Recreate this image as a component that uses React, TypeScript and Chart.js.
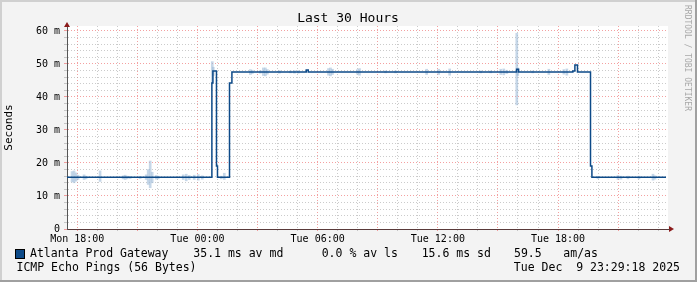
import React, { useEffect, useRef } from "react";
import { Chart, registerables } from "chart.js";
Chart.register(...registerables);

const W = 697;
const H = 282;
const MONO = "'DejaVu Sans Mono', monospace";

// time axis in hours since Mon 00:00
const START_H = 17.4883; // Mon 17:29:18
const END_H = 47.4883; // Tue 23:29:18
const xTickHours = [18, 24, 30, 36, 42];
const xTickLabels = ["Mon 18:00", "Tue 00:00", "Tue 06:00", "Tue 12:00", "Tue 18:00"];
const yTickValues = [0, 10, 20, 30, 40, 50, 60];
const yTickLabels = ["0", "10 m", "20 m", "30 m", "40 m", "50 m", "60 m"];

// median RTT (ms); each value holds from its hour until the next hour
const medianHours = [17.49, 24.72, 24.77, 24.95, 25.0, 25.6, 25.72, 29.43, 29.53, 39.93, 40.03, 42.74, 42.84, 42.97, 43.62, 43.69, 47.39];
const medianValues = [15.7, 44.2, 47.9, 19.1, 15.7, 44.2, 47.6, 48.2, 47.6, 48.4, 47.6, 47.9, 49.7, 47.6, 19.1, 15.7, 15.7];

// smoke (ping spread), ms
const smokeHours = [17.74, 17.84, 17.94, 18.04, 18.34, 18.44, 19.14, 20.29, 20.39, 20.49, 20.64, 21.14, 21.44, 21.54, 21.64, 21.74, 21.94, 22.04, 23.29, 23.44, 23.59, 23.84, 24.04, 24.24, 24.74, 24.79, 25.19, 25.34, 26.64, 26.74, 27.14, 27.29, 27.39, 27.49, 28.09, 28.64, 28.84, 29.04, 30.54, 30.64, 30.74, 31.99, 32.09, 33.39, 33.89, 35.44, 36.04, 36.59, 38.14, 38.64, 39.14, 39.29, 39.44, 39.94, 39.99, 40.74, 41.54, 42.29, 42.44, 43.99, 44.99, 45.14, 45.49, 46.04, 46.74, 46.84];
const smokeLow = [14.3, 14.0, 14.5, 15.0, 15.0, 15.2, 14.4, 15.2, 15.0, 15.2, 15.3, 15.3, 15.0, 13.5, 12.5, 14.0, 15.1, 15.2, 15.0, 14.6, 15.0, 15.0, 14.8, 15.1, 44.0, 46.5, 15.2, 15.0, 46.8, 47.1, 47.2, 46.5, 46.4, 46.9, 47.2, 47.3, 47.2, 47.2, 46.6, 46.4, 46.8, 46.9, 46.6, 47.3, 47.3, 46.8, 46.8, 46.6, 47.3, 47.3, 46.8, 46.7, 47.1, 37.6, 46.5, 47.3, 46.8, 46.9, 46.6, 15.3, 15.0, 15.1, 15.2, 15.2, 14.8, 15.1];
const smokeHigh = [17.4, 17.6, 17.0, 16.3, 16.4, 16.0, 17.6, 16.1, 16.3, 16.0, 15.9, 15.9, 16.4, 18.0, 20.6, 17.2, 16.2, 16.0, 16.4, 16.6, 16.2, 16.3, 16.5, 16.1, 50.7, 49.0, 16.0, 16.9, 48.3, 48.1, 48.0, 48.8, 48.8, 48.3, 48.0, 47.9, 48.0, 48.0, 48.6, 48.8, 48.4, 48.3, 48.6, 47.9, 47.9, 48.4, 48.4, 48.5, 47.9, 47.9, 48.4, 48.5, 48.1, 59.3, 48.8, 47.9, 48.4, 48.3, 48.5, 15.9, 16.2, 16.0, 16.0, 16.0, 16.6, 16.1];

const TITLE = "Last 30 Hours";
const Y_TITLE = "Seconds";
const WATERMARK = "RRDTOOL / TOBI OETIKER";
const LEGEND_NAME = "Atlanta Prod Gateway";
const LEGEND_STATS = ["35.1 ms av md", "0.0 % av ls", "15.6 ms sd", "59.5", "am/as"];
const LEGEND_LINE2 = "ICMP Echo Pings (56 Bytes)";
const DATE_TEXT = "Tue Dec  9 23:29:18 2025";

const MEDIAN_COLOR = "#0d4a88";
const MAJOR = "rgba(240,120,120,0.7)";
const MINOR = "rgba(160,160,160,0.55)";

const decor = {
  id: "decor",
  beforeDraw(chart: any) {
    const { ctx, chartArea: a } = chart;
    ctx.save();
    ctx.fillStyle = "#f3f3f3";
    ctx.fillRect(0, 0, W, H);
    ctx.fillStyle = "#d0d0d0";
    ctx.fillRect(0, 0, W, 2);
    ctx.fillRect(0, 0, 2, H);
    ctx.fillStyle = "#a0a0a0";
    ctx.fillRect(0, H - 2, W, 2);
    ctx.fillRect(W - 2, 0, 2, H);
    ctx.fillStyle = "#ffffff";
    ctx.fillRect(a.left, a.top, a.right - a.left, a.bottom - a.top);
    ctx.restore();
  },
  afterDraw(chart: any) {
    const { ctx, chartArea: a } = chart;
    ctx.save();
    // arrows
    ctx.fillStyle = "#8b1a1a";
    ctx.beginPath();
    ctx.moveTo(a.left - 3, a.top + 1);
    ctx.lineTo(a.left + 3, a.top + 1);
    ctx.lineTo(a.left, a.top - 4);
    ctx.closePath();
    ctx.fill();
    ctx.beginPath();
    ctx.moveTo(a.right + 1, a.bottom - 3);
    ctx.lineTo(a.right + 1, a.bottom + 3);
    ctx.lineTo(a.right + 6, a.bottom);
    ctx.closePath();
    ctx.fill();
    ctx.strokeStyle = "#5a3a3a";
    ctx.lineWidth = 1;
    ctx.beginPath();
    ctx.moveTo(a.right, a.bottom + 0.5);
    ctx.lineTo(a.right + 2, a.bottom + 0.5);
    ctx.stroke();

    // title
    ctx.fillStyle = "#000";
    ctx.font = `13px ${MONO}`;
    ctx.textAlign = "center";
    ctx.textBaseline = "middle";
    ctx.fillText(TITLE, 348, 19);

    // watermark
    ctx.save();
    ctx.translate(687, 5);
    ctx.rotate(Math.PI / 2);
    ctx.font = `8px ${MONO}`;
    ctx.fillStyle = "#a8a8a8";
    ctx.textAlign = "left";
    ctx.textBaseline = "middle";
    ctx.fillText(WATERMARK, 0, 0);
    ctx.restore();

    // legend
    ctx.fillStyle = MEDIAN_COLOR;
    ctx.fillRect(16, 249.5, 9, 9);
    ctx.strokeStyle = "#000";
    ctx.lineWidth = 1;
    ctx.strokeRect(15.5, 249.5, 9, 9);
    ctx.fillStyle = "#000";
    ctx.font = `11.5px ${MONO}`;
    ctx.textAlign = "left";
    ctx.textBaseline = "middle";
    ctx.fillText(LEGEND_NAME, 30, 254);
    const statX = [193.3, 321.7, 421.7, 514, 563.3];
    LEGEND_STATS.forEach((s, i) => ctx.fillText(s, statX[i], 254));
    ctx.fillText(LEGEND_LINE2, 16.5, 268);
    ctx.textAlign = "right";
    ctx.fillText(DATE_TEXT, 680, 268);
    ctx.restore();
  },
};

export default function App() {
  const ref = useRef<HTMLCanvasElement>(null);
  useEffect(() => {
    if (!ref.current) return;
    const chart = new Chart(ref.current, {
      type: "line",
      data: {
        datasets: [
          {
            type: "line",
            data: medianHours.map((h, i) => ({ x: h, y: medianValues[i] })),
            borderColor: MEDIAN_COLOR,
            borderWidth: 1.5,
            pointRadius: 0,
            stepped: "before",
            fill: false,
            order: 1,
          } as any,
          {
            type: "bar",
            data: smokeHours.map((h, i) => ({ x: h, y: [smokeLow[i], smokeHigh[i]] })),
            backgroundColor: "rgba(160,188,216,0.6)",
            borderWidth: 0,
            barThickness: 2,
            grouped: false,
            order: 2,
          } as any,
        ],
      },
      options: {
        animation: false,
        responsive: false,
        devicePixelRatio: 1,
        layout: { padding: { left: 0, top: 26, right: 29, bottom: 33 } },
        plugins: { legend: { display: false }, title: { display: false }, tooltip: { enabled: false } },
        scales: {
          x: {
            type: "linear",
            min: START_H,
            max: END_H,
            offset: false,
            afterBuildTicks: (s: any) => {
              const t = [];
              for (let h = 18; h <= 47; h++) t.push({ value: h });
              s.ticks = t;
            },
            afterFit: (s: any) => {
              s.height = 20;
            },
            ticks: {
              autoSkip: false,
              maxRotation: 0,
              padding: 2,
              color: "#000",
              font: { family: MONO, size: 10 },
              callback: (v: any) => {
                const i = xTickHours.indexOf(Number(v));
                return i >= 0 ? xTickLabels[i] : "";
              },
            },
            grid: {
              offset: false,
              color: (c: any) => (c.tick && c.tick.value % 3 === 0 ? MAJOR : MINOR),
              tickLength: 2,
              drawTicks: true,
            },
            border: { display: true, color: "#5a3a3a", width: 1, dash: [1, 2], dashOffset: 0 },
          },
          y: {
            type: "linear",
            min: 0,
            max: 61.5,
            afterBuildTicks: (s: any) => {
              const t = [];
              for (let v = 0; v <= 60; v += 2) t.push({ value: v });
              s.ticks = t;
            },
            afterFit: (s: any) => {
              s.width = 67;
            },
            ticks: {
              autoSkip: false,
              padding: 4,
              color: "#000",
              font: { family: MONO, size: 10 },
              callback: (v: any) => {
                const i = yTickValues.indexOf(Number(v));
                return i >= 0 ? yTickLabels[i] : "";
              },
            },
            grid: {
              color: (c: any) => (c.tick && c.tick.value % 10 === 0 ? MAJOR : MINOR),
              tickLength: 3,
            },
            border: { display: true, color: "#555555", width: 1, dash: [1, 2], dashOffset: 0 },
            title: {
              display: true,
              text: Y_TITLE,
              color: "#000",
              font: { family: MONO, size: 11, lineHeight: 1.2 },
              padding: { top: 3, bottom: 0 },
            },
          },
        },
      } as any,
      plugins: [decor],
    });
    return () => chart.destroy();
  }, []);
  return (
    <div style={{ position: "absolute", left: 0, top: 0, width: W, height: H }}>
      <canvas ref={ref} width={W} height={H} style={{ width: W, height: H, display: "block" }} />
    </div>
  );
}
